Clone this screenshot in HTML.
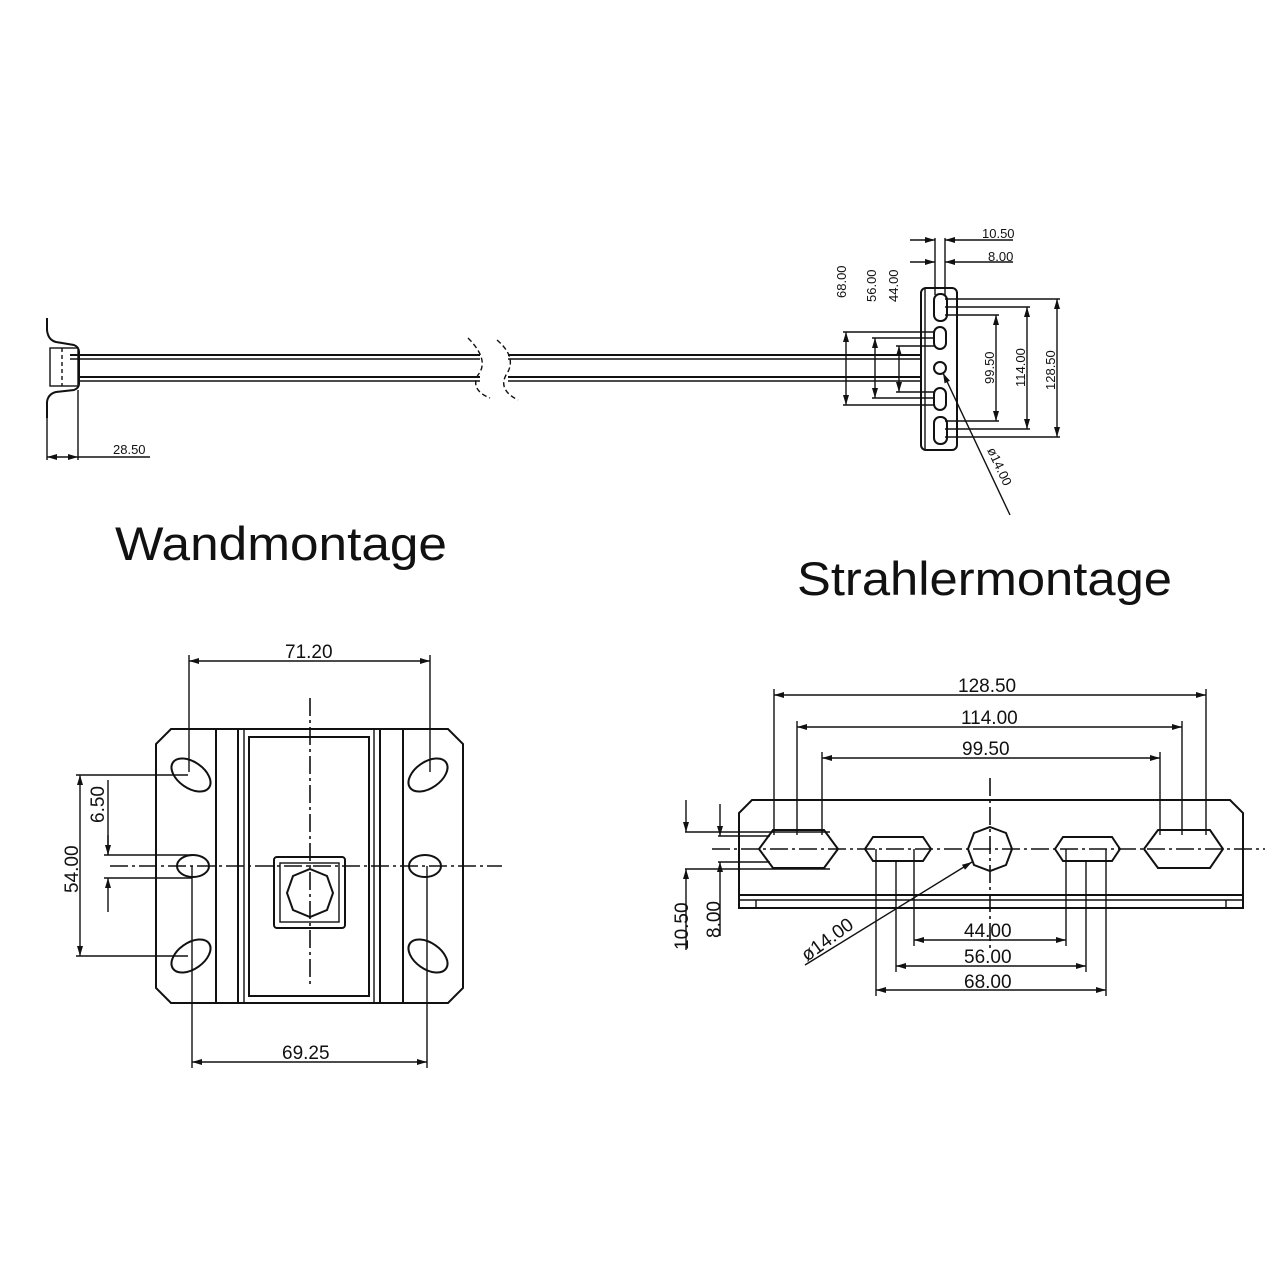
<!DOCTYPE html>
<html><head><meta charset="utf-8"><style>html,body{margin:0;padding:0;background:#fff}svg{display:block}</style></head>
<body>
<svg width="1288" height="1288" viewBox="0 0 1288 1288" xmlns="http://www.w3.org/2000/svg">
<defs>
<marker id="a" viewBox="0 0 10 6" refX="10" refY="3" markerWidth="14" markerHeight="6" markerUnits="userSpaceOnUse" orient="auto-start-reverse"><path d="M0,0L10,3L0,6z" fill="#111"/></marker>
</defs>
<style>
.l{stroke:#111;stroke-width:2;fill:none}
.t{stroke:#111;stroke-width:1.4;fill:none}
.c{stroke:#111;stroke-width:1.6;fill:none;stroke-dasharray:18 4 3 4}
.d{stroke:#111;stroke-width:1.4;fill:none;marker-start:url(#a);marker-end:url(#a)}
.d1{stroke:#111;stroke-width:1.4;fill:none;marker-end:url(#a)}
text{font-family:"Liberation Sans",sans-serif;fill:#111}
.n{font-size:19px;font-stretch:condensed}
.s{font-size:13px}
</style>

<!-- ===== TOP SIDE VIEW ===== -->
<path class="l" d="M47,318 L47,330 Q48,340 56,342 L74,345 Q79,347 79,352 L79,384 Q79,388 74,390 L56,392 Q48,394 47,402 L47,418"/>
<rect class="t" x="50" y="348" width="28" height="38"/>
<line class="t" x1="62" y1="348" x2="62" y2="386" stroke-dasharray="4 3"/>
<line class="l" x1="70" y1="355" x2="480" y2="355"/><line class="t" x1="70" y1="359" x2="480" y2="359"/>
<line class="l" x1="78" y1="377" x2="480" y2="377"/><line class="t" x1="78" y1="381" x2="480" y2="381"/>
<line class="l" x1="508" y1="355" x2="921" y2="355"/><line class="t" x1="508" y1="359" x2="921" y2="359"/>
<line class="l" x1="508" y1="377" x2="921" y2="377"/><line class="t" x1="508" y1="381" x2="921" y2="381"/>
<path class="t" d="M468,338 Q490,360 478,375 Q470,390 490,398" stroke-dasharray="5 3"/>
<path class="t" d="M497,340 Q518,358 506,375 Q498,390 518,400" stroke-dasharray="5 3"/>
<line class="t" x1="47" y1="418" x2="47" y2="460"/><line class="t" x1="78" y1="390" x2="78" y2="460"/>
<line class="d" x1="47" y1="457" x2="78" y2="457"/><line class="t" x1="78" y1="457" x2="150" y2="457"/>
<text class="s" x="113" y="454">28.50</text>

<!-- right flange -->
<rect class="l" x="921" y="288" width="36" height="162" rx="5"/>
<line class="t" x1="925" y1="288" x2="925" y2="450"/>
<rect class="l" x="934" y="294" width="13" height="27" rx="6"/>
<rect class="l" x="934" y="327" width="12" height="22" rx="6"/>
<circle class="l" cx="940" cy="368" r="6"/>
<rect class="l" x="934" y="388" width="12" height="22" rx="6"/>
<rect class="l" x="934" y="417" width="13" height="27" rx="6"/>
<line class="t" x1="935" y1="238" x2="935" y2="295"/><line class="t" x1="945" y1="238" x2="945" y2="295"/>
<line class="d1" x1="910" y1="240" x2="935" y2="240"/><line class="d1" x1="970" y1="240" x2="945" y2="240"/>
<line class="t" x1="970" y1="240" x2="1013" y2="240"/>
<line class="d1" x1="910" y1="262" x2="935" y2="262"/><line class="d1" x1="970" y1="262" x2="945" y2="262"/>
<line class="t" x1="970" y1="262" x2="1013" y2="262"/>
<text class="s" x="982" y="238">10.50</text><text class="s" x="988" y="261">8.00</text>
<line class="t" x1="843" y1="332" x2="935" y2="332"/><line class="t" x1="843" y1="405" x2="935" y2="405"/>
<line class="t" x1="872" y1="338" x2="935" y2="338"/><line class="t" x1="872" y1="398" x2="935" y2="398"/>
<line class="t" x1="896" y1="346" x2="935" y2="346"/><line class="t" x1="896" y1="392" x2="935" y2="392"/>
<line class="d" x1="846" y1="332" x2="846" y2="405"/>
<line class="d" x1="875" y1="338" x2="875" y2="398"/>
<line class="d" x1="899" y1="346" x2="899" y2="392"/>
<text class="s" transform="translate(846,298) rotate(-90)">68.00</text>
<text class="s" transform="translate(876,302) rotate(-90)">56.00</text>
<text class="s" transform="translate(898,302) rotate(-90)">44.00</text>
<line class="t" x1="945" y1="299" x2="1060" y2="299"/><line class="t" x1="945" y1="437" x2="1060" y2="437"/>
<line class="t" x1="945" y1="307" x2="1030" y2="307"/><line class="t" x1="945" y1="429" x2="1030" y2="429"/>
<line class="t" x1="945" y1="315" x2="999" y2="315"/><line class="t" x1="945" y1="421" x2="999" y2="421"/>
<line class="d" x1="1057" y1="299" x2="1057" y2="437"/>
<line class="d" x1="1027" y1="307" x2="1027" y2="429"/>
<line class="d" x1="996" y1="315" x2="996" y2="421"/>
<text class="s" transform="translate(1055,390) rotate(-90)">128.50</text>
<text class="s" transform="translate(1025,387) rotate(-90)">114.00</text>
<text class="s" transform="translate(994,384) rotate(-90)">99.50</text>
<line class="d1" x1="1010" y1="515" x2="943" y2="373"/>
<text class="s" transform="translate(987,450) rotate(65)">ø14.00</text>

<!-- titles -->
<text x="115" y="560" font-size="47" textLength="332" lengthAdjust="spacingAndGlyphs">Wandmontage</text>
<text x="797" y="595" font-size="47" textLength="375" lengthAdjust="spacingAndGlyphs">Strahlermontage</text>

<!-- ===== WANDMONTAGE PLATE ===== -->
<path class="l" d="M171,729 L448,729 L463,744 L463,988 L448,1003 L171,1003 L156,988 L156,744 Z"/>
<line class="l" x1="216" y1="729" x2="216" y2="1003"/>
<line class="l" x1="238" y1="729" x2="238" y2="1003"/>
<line class="t" x1="244" y1="729" x2="244" y2="1003"/>
<line class="l" x1="403" y1="729" x2="403" y2="1003"/>
<line class="l" x1="380" y1="729" x2="380" y2="1003"/>
<line class="t" x1="374" y1="729" x2="374" y2="1003"/>
<rect class="l" x="249" y="737" width="120" height="259"/>
<rect class="l" x="274" y="857" width="71" height="71" rx="3"/>
<rect class="t" x="280" y="863" width="59" height="59"/>
<polygon class="l" points="310,869 327,876 333,893 327,910 310,917 293,910 287,893 293,876"/>
<line class="c" x1="110" y1="866" x2="502" y2="866"/>
<line class="c" x1="310" y1="698" x2="310" y2="988"/>
<ellipse class="l" cx="191" cy="775" rx="22" ry="13" transform="rotate(35 191 775)"/>
<ellipse class="l" cx="193" cy="866" rx="16" ry="11"/>
<ellipse class="l" cx="191" cy="956" rx="22" ry="13" transform="rotate(-35 191 956)"/>
<ellipse class="l" cx="428" cy="775" rx="22" ry="13" transform="rotate(-35 428 775)"/>
<ellipse class="l" cx="425" cy="866" rx="16" ry="11"/>
<ellipse class="l" cx="428" cy="956" rx="22" ry="13" transform="rotate(35 428 956)"/>
<line class="t" x1="189" y1="655" x2="189" y2="772"/><line class="t" x1="430" y1="655" x2="430" y2="772"/>
<line class="d" x1="189" y1="661" x2="430" y2="661"/>
<text class="n" x="285" y="658">71.20</text>
<line class="t" x1="192" y1="866" x2="192" y2="1068"/><line class="t" x1="427" y1="866" x2="427" y2="1068"/>
<line class="d" x1="192" y1="1062" x2="427" y2="1062"/>
<text class="n" x="282" y="1059">69.25</text>
<line class="t" x1="76" y1="775" x2="188" y2="775"/><line class="t" x1="76" y1="956" x2="188" y2="956"/>
<line class="d" x1="80" y1="775" x2="80" y2="956"/>
<text class="n" transform="translate(78,893) rotate(-90)">54.00</text>
<line class="t" x1="104" y1="855" x2="192" y2="855"/><line class="t" x1="104" y1="878" x2="192" y2="878"/>
<line class="t" x1="108" y1="780" x2="108" y2="855"/>
<line class="d1" x1="108" y1="835" x2="108" y2="855"/>
<line class="d1" x1="108" y1="912" x2="108" y2="878"/>
<text class="n" transform="translate(104,823) rotate(-90)">6.50</text>

<!-- ===== STRAHLERMONTAGE PLATE ===== -->
<path class="l" d="M752,800 L1230,800 L1243,813 L1243,908 L739,908 L739,813 Z"/>
<line class="l" x1="739" y1="895" x2="1243" y2="895"/>
<line class="t" x1="739" y1="900" x2="1243" y2="900"/>
<line class="t" x1="756" y1="900" x2="756" y2="908"/><line class="t" x1="1226" y1="900" x2="1226" y2="908"/>
<polygon class="l" points="773,830 824,830 838,849 824,868 773,868 759,849"/>
<polygon class="l" points="873,837 923,837 931,849 923,861 873,861 865,849"/>
<polygon class="l" points="1063,837 1112,837 1120,849 1112,861 1063,861 1055,849"/>
<polygon class="l" points="1158,830 1210,830 1223,849 1210,868 1158,868 1144,849"/>
<polygon class="l" points="990,827 1006,833 1012,849 1006,865 990,871 974,865 968,849 974,833"/>
<line class="c" x1="712" y1="849" x2="1265" y2="849"/>
<line class="c" x1="990" y1="778" x2="990" y2="948"/>
<line class="t" x1="774" y1="689" x2="774" y2="835"/><line class="t" x1="1206" y1="689" x2="1206" y2="835"/>
<line class="d" x1="774" y1="695" x2="1206" y2="695"/>
<text class="n" x="958" y="692">128.50</text>
<line class="t" x1="797" y1="721" x2="797" y2="835"/><line class="t" x1="1182" y1="721" x2="1182" y2="835"/>
<line class="d" x1="797" y1="727" x2="1182" y2="727"/>
<text class="n" x="961" y="724">114.00</text>
<line class="t" x1="822" y1="752" x2="822" y2="835"/><line class="t" x1="1160" y1="752" x2="1160" y2="835"/>
<line class="d" x1="822" y1="758" x2="1160" y2="758"/>
<text class="n" x="962" y="755">99.50</text>
<line class="t" x1="914" y1="849" x2="914" y2="946"/><line class="t" x1="1066" y1="849" x2="1066" y2="946"/>
<line class="d" x1="914" y1="940" x2="1066" y2="940"/>
<text class="n" x="964" y="937">44.00</text>
<line class="t" x1="896" y1="860" x2="896" y2="972"/><line class="t" x1="1086" y1="860" x2="1086" y2="972"/>
<line class="d" x1="896" y1="966" x2="1086" y2="966"/>
<text class="n" x="964" y="963">56.00</text>
<line class="t" x1="876" y1="849" x2="876" y2="996"/><line class="t" x1="1106" y1="849" x2="1106" y2="996"/>
<line class="d" x1="876" y1="990" x2="1106" y2="990"/>
<text class="n" x="964" y="988">68.00</text>
<line class="t" x1="685" y1="832" x2="830" y2="832"/><line class="t" x1="685" y1="869" x2="830" y2="869"/>
<line class="t" x1="718" y1="836" x2="770" y2="836"/><line class="t" x1="718" y1="862" x2="770" y2="862"/>
<line class="d1" x1="686" y1="800" x2="686" y2="832"/>
<line class="d1" x1="686" y1="950" x2="686" y2="869"/>
<line class="d1" x1="720" y1="804" x2="720" y2="836"/>
<line class="d1" x1="720" y1="936" x2="720" y2="862"/>
<text class="n" transform="translate(688,950) rotate(-90)">10.50</text>
<text class="n" transform="translate(720,938) rotate(-90)">8.00</text>
<line class="d1" x1="805" y1="965" x2="972" y2="862"/>
<text class="n" transform="translate(807,962) rotate(-36)">ø14.00</text>
</svg>
</body></html>
